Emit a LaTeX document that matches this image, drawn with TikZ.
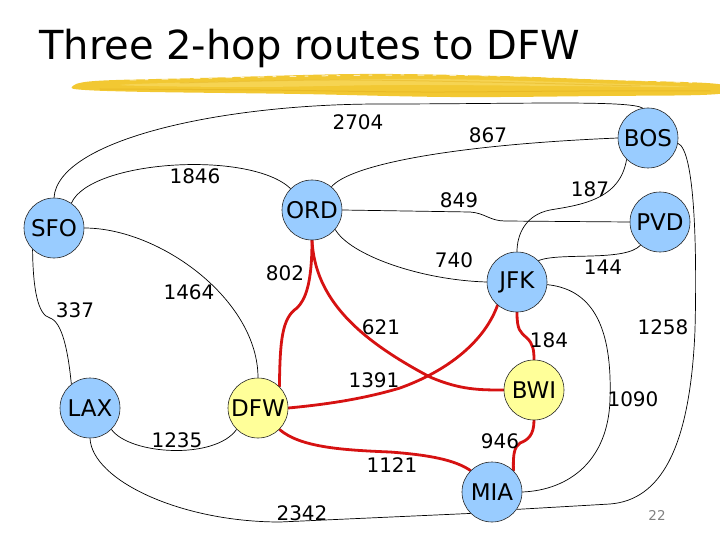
\documentclass[tikz,border=0pt]{standalone}
\usepackage{fontspec}
\setmainfont{DejaVu Sans}
\definecolor{blueapt}{RGB}{153,204,255}
\definecolor{yellowapt}{RGB}{255,255,153}
\definecolor{redroute}{RGB}{214,18,18}
\definecolor{brush}{RGB}{242,200,50}
\definecolor{brushlight}{RGB}{250,222,110}
\definecolor{brushdark}{RGB}{228,178,30}
\definecolor{pagegray}{RGB}{128,128,128}
\pgfdeclarelayer{bg}
\pgfsetlayers{bg,main}
\begin{document}
\begin{tikzpicture}[x=1pt,y=-1pt,
  apt/.style={circle,draw=black!85,line width=0.6pt,minimum size=60pt,inner sep=0pt,font=\fontsize{23}{23}\selectfont},
  hub/.style={apt,fill=blueapt},
  dst/.style={apt,fill=yellowapt},
  wt/.style={inner sep=0pt,font=\fontsize{20}{20}\selectfont},
  route/.style={draw=black,line width=0.7pt},
  hop/.style={draw=redroute,line width=2.8pt,line cap=round,line join=round},
  streak/.style={line width=1pt,line cap=round}]
\useasboundingbox (0,0) rectangle (720,540);
% title and brush stroke
\node[anchor=base west,inner sep=0pt,font=\fontsize{40}{40}\selectfont] (title) at (39,60) {Three 2-hop routes to DFW};
\fill[brush] plot[smooth cycle,tension=0.6] coordinates {(72,87) (95,81) (200,78) (360,74) (500,76) (610,80) (718,84) (718,94) (600,96) (450,97) (300,94) (150,92) (85,90)};
\fill[brushlight,opacity=0.55] plot[smooth cycle,tension=0.6] coordinates {(120,85) (250,81) (420,79) (560,82) (690,87) (560,86) (400,85) (250,87)};
\draw[streak,brushdark,opacity=0.6] plot[smooth,tension=0.6] coordinates {(100,89) (260,90) (420,92) (580,91) (710,91)};
\draw[streak,brushdark,opacity=0.45] plot[smooth,tension=0.6] coordinates {(180,83) (330,80) (480,82) (640,86)};
\draw[streak,white,opacity=0.7,dash pattern=on 6pt off 9pt on 3pt off 14pt] plot[smooth,tension=0.6] coordinates {(130,80) (260,77) (400,75) (540,77) (700,83)};
% airports
\node[hub] (SFO) at (54,228) {SFO};
\node[hub] (ORD) at (312,210) {ORD};
\node[hub] (BOS) at (648,138) {BOS};
\node[hub] (PVD) at (660,222) {PVD};
\node[hub] (JFK) at (517,282) {JFK};
\node[hub] (LAX) at (90,408) {LAX};
\node[dst] (DFW) at (258,408) {DFW};
\node[dst] (BWI) at (534,390) {BWI};
\node[hub] (MIA) at (492,492) {MIA};
\begin{pgfonlayer}{bg}
% black routes
\draw[route] (SFO.north) .. controls (58,140) and (220,104) .. (380,104) .. controls (520,104) and (630,100) .. (BOS.100);
\draw[route] (SFO.55) .. controls (90,160) and (250,150) .. (ORD.135);
\draw[route] (ORD.50) .. controls (350,165) and (450,145) .. (BOS.west);
\draw[route] (ORD.east) -- (470,212) .. controls (485,213) and (490,221) .. (505,221) -- (PVD.west);
\draw[route] (ORD.-40) .. controls (350,255) and (420,280) .. (JFK.west);
\draw[route] (BOS.-135) .. controls (620,200) and (580,205) .. (550,210) .. controls (525,215) and (517,235) .. (JFK.north);
\draw[route] (PVD.-130) .. controls (625,262) and (560,252) .. (JFK.45);
\draw[route] (BOS.-10) .. controls (695,150) and (697,250) .. (695,330) .. controls (690,450) and (660,500) .. (610,504) -- (MIA.-35);
\draw[route] (JFK.-5) .. controls (600,290) and (612,340) .. (610,400) .. controls (608,460) and (570,490) .. (MIA.east);
\draw[route] (SFO.-135) .. controls (33,290) and (38,315) .. (50,318) .. controls (62,322) and (68,350) .. (LAX.128);
\draw[route] (SFO.east) .. controls (160,228) and (258,300) .. (DFW.north);
\draw[route] (LAX.-45) .. controls (130,455) and (215,460) .. (DFW.-135);
\draw[route] (LAX.south) .. controls (92,480) and (180,522) .. (280,522) -- (MIA.-135);
% red two-hop routes
\draw[hop] (ORD.south) .. controls (312,285) and (305,300) .. (297,308) .. controls (282,318) and (280,340) .. (DFW.45);
\draw[hop] (ORD.south) .. controls (315,300) and (360,340) .. (430,377) .. controls (460,390) and (480,390) .. (BWI.west);
\draw[hop] (JFK.-130) .. controls (485,340) and (450,370) .. (400,388) .. controls (360,400) and (320,405) .. (DFW.east);
\draw[hop] (JFK.south) .. controls (517,330) and (520,332) .. (527,338) .. controls (533,344) and (534,350) .. (BWI.north);
\draw[hop] (DFW.-45) .. controls (300,447) and (340,450) .. (390,452) .. controls (430,455) and (455,460) .. (MIA.135);
\draw[hop] (BWI.south) .. controls (534,435) and (528,440) .. (520,443) .. controls (514,447) and (513,455) .. (MIA.45);
\end{pgfonlayer}
% distances
\node[wt] (d2704) at (358,122) {2704};
\node[wt] (d867) at (488,135) {867};
\node[wt] (d1846) at (195,176) {1846};
\node[wt] (d849) at (459,200) {849};
\node[wt] (d187) at (590,189) {187};
\node[wt] (d740) at (454,260) {740};
\node[wt] (d144) at (603,267) {144};
\node[wt] (d802) at (285,273) {802};
\node[wt] (d1464) at (189,292) {1464};
\node[wt] (d337) at (75,310) {337};
\node[wt] (d621) at (381,327) {621};
\node[wt] (d1391) at (374,380) {1391};
\node[wt] (d184) at (549,340) {184};
\node[wt] (d1258) at (663,327) {1258};
\node[wt] (d1090) at (633,399) {1090};
\node[wt] (d946) at (500,441) {946};
\node[wt] (d1121) at (392,465) {1121};
\node[wt] (d1235) at (177,440) {1235};
\node[wt] (d2342) at (302,513) {2342};
\node[inner sep=0pt,font=\fontsize{13.5}{14}\selectfont,text=pagegray] (page) at (657,515) {22};
\end{tikzpicture}
\end{document}
